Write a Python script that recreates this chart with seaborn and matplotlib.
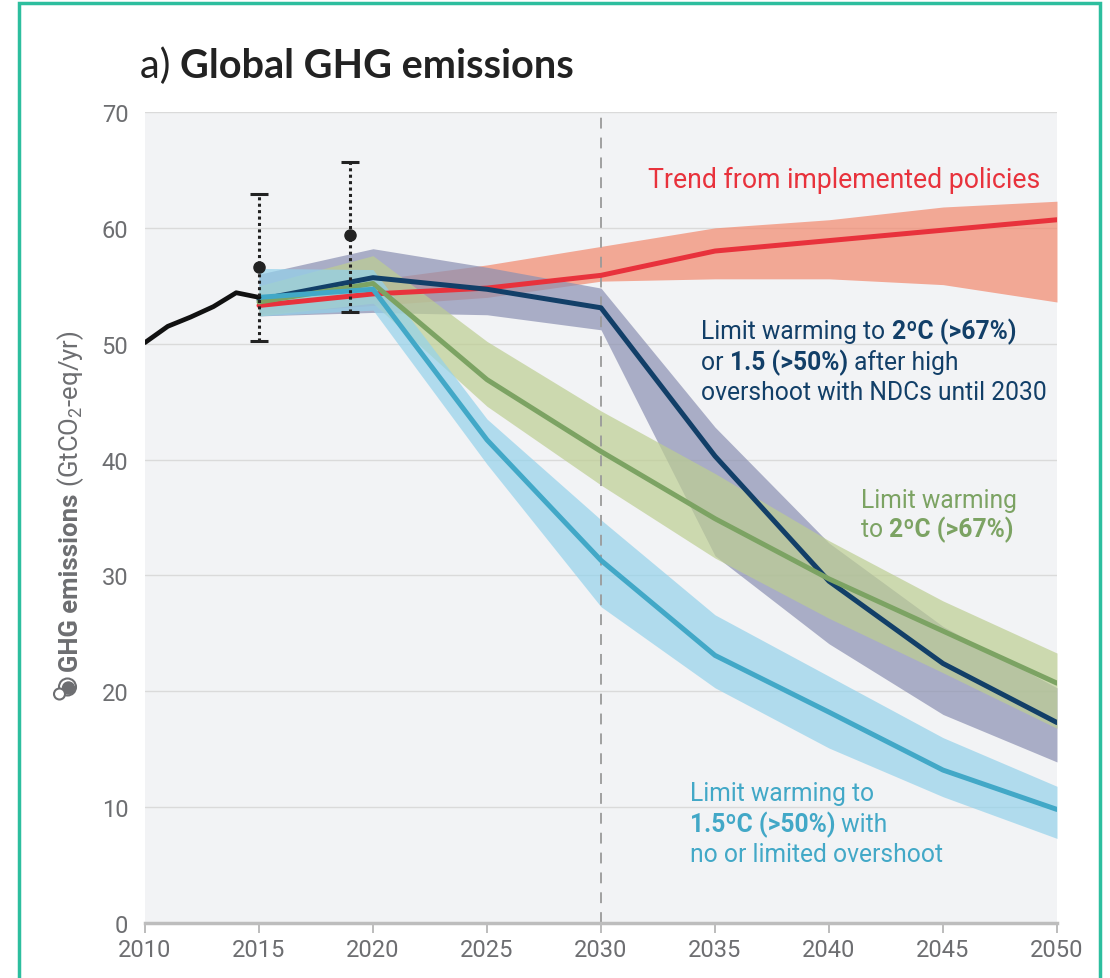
import numpy as np
import pandas as pd
import seaborn as sns
import matplotlib.pyplot as plt
from matplotlib.patches import Rectangle, Circle
from matplotlib.text import Annotation

# historical emissions (GtCO2-eq/yr)
years_hist = [2010, 2011, 2012, 2013, 2014, 2015]
ghg_hist = [50.1, 51.5, 52.3, 53.2, 54.4, 54.0]

# reported values with uncertainty ranges
obs_years = [2015, 2019]
obs_value = [56.6, 59.4]
obs_low = [50.2, 52.7]
obs_high = [62.9, 65.7]

# scenario pathways
years = [2015, 2020, 2025, 2030, 2035, 2040, 2045, 2050]
policies_mid = [53.3, 54.3, 54.8, 55.9, 58.0, 58.9, 59.8, 60.7]
policies_lo = [52.6, 53.3, 54.0, 55.4, 55.6, 55.6, 55.1, 53.6]
policies_hi = [54.0, 55.5, 56.8, 58.4, 60.0, 60.7, 61.8, 62.3]

ndc_mid = [53.8, 55.7, 54.7, 53.1, 40.3, 29.5, 22.4, 17.3]
ndc_lo = [52.4, 52.7, 52.5, 51.2, 31.7, 24.1, 18.0, 13.9]
ndc_hi = [56.0, 58.2, 56.6, 54.8, 42.8, 32.8, 25.6, 20.3]

c2_mid = [53.6, 55.2, 46.9, 40.7, 34.9, 29.7, 25.2, 20.7]
c2_lo = [52.4, 53.5, 44.6, 37.8, 31.5, 26.3, 21.6, 16.8]
c2_hi = [55.0, 57.6, 50.2, 44.2, 38.8, 33.0, 27.8, 23.3]

c15_mid = [54.0, 54.7, 41.7, 31.3, 23.1, 18.2, 13.2, 9.8]
c15_lo = [52.4, 52.9, 39.6, 27.3, 20.3, 15.1, 10.9, 7.3]
c15_hi = [56.5, 56.4, 43.5, 34.8, 26.6, 21.3, 16.0, 11.8]

scenarios = ['policies', 'ndc', 'c2', 'c15']
line_colors = {'policies': '#E8323C', 'ndc': '#123F68', 'c2': '#7CA363', 'c15': '#42A8C7'}
band_colors = {'policies': '#F3886D', 'ndc': '#8B90B2', 'c2': '#BDCE92', 'c15': '#94D2EB'}
mids = {'policies': policies_mid, 'ndc': ndc_mid, 'c2': c2_mid, 'c15': c15_mid}
lows = {'policies': policies_lo, 'ndc': ndc_lo, 'c2': c2_lo, 'c15': c15_lo}
highs = {'policies': policies_hi, 'ndc': ndc_hi, 'c2': c2_hi, 'c15': c15_hi}

df = pd.concat([pd.DataFrame({'year': years, 'ghg': mids[s], 'scenario': s}) for s in scenarios])

sns.set_theme(style='white')
plt.rcParams['font.family'] = ['Roboto', 'DejaVu Sans']
plt.rcParams['mathtext.fontset'] = 'custom'
plt.rcParams['mathtext.rm'] = 'Roboto'
plt.rcParams['mathtext.it'] = 'Roboto:italic'
plt.rcParams['mathtext.bf'] = 'Roboto:bold'

grey = '#6D6E71'

fig = plt.figure(figsize=(11.1, 9.79), dpi=100)
fig.patch.set_facecolor('white')
ax = fig.add_axes([145 / 1110, 55 / 979, 912 / 1110, 811 / 979])
ax.set_facecolor('#F2F3F5')

# uncertainty bands
for s in scenarios:
    ax.fill_between(years, lows[s], highs[s], color=band_colors[s], alpha=0.7, lw=0, zorder=2)

ax.axvline(2030, color='#9A9A9A', lw=1.3, ls=(0, (6, 5)), zorder=2.5)

sns.lineplot(data=df, x='year', y='ghg', hue='scenario', hue_order=scenarios,
             palette=line_colors, lw=3.6, legend=False, ax=ax, zorder=3)
sns.lineplot(x=years_hist, y=ghg_hist, color='#111111', lw=3.4, ax=ax, zorder=3)

eb = ax.errorbar(obs_years, obs_value,
                 yerr=[np.subtract(obs_value, obs_low), np.subtract(obs_high, obs_value)],
                 fmt='o', color='#222222', ms=8, capsize=6.5, elinewidth=2.2, capthick=2.2, zorder=10)
eb[2][0].set_linestyle((0, (1, 1.1)))

ax.set_xlim(2010, 2050)
ax.set_ylim(0, 70)
ax.set_xticks(range(2010, 2051, 5))
ax.set_yticks(range(0, 71, 10))
ax.set_xlabel('')
ax.set_ylabel('')
ax.set_axisbelow(True)
ax.yaxis.grid(True, color='#DADADA', lw=1)
ax.xaxis.grid(False)
for side in ['left', 'top', 'right']:
    ax.spines[side].set_visible(False)
ax.spines['bottom'].set_color('#BDBDBD')
ax.spines['bottom'].set_linewidth(2.5)
ax.tick_params(axis='x', bottom=True, length=7.5, width=1.2, color='#B0B0B0',
               labelsize=17, labelcolor=grey, pad=3)
ax.tick_params(axis='y', left=False, labelsize=17, labelcolor=grey, pad=6)


def rich_line(x, y, parts, color, size=17.7):
    prev = None
    for txt, bold in parts:
        w = 'bold' if bold else 'normal'
        if prev is None:
            prev = ax.text(x, y, txt, color=color, fontsize=size, fontweight=w, va='baseline', ha='left')
        else:
            prev = ax.annotate(txt, xy=(1, y), xycoords=(prev, 'data'), color=color,
                               fontsize=size, fontweight=w, va='baseline', ha='left')


ax.text(2049.25, 63.5, 'Trend from implemented policies', color=line_colors['policies'],
        fontsize=19.2, va='baseline', ha='right')

rich_line(2034.4, 50.5, [('Limit warming to ', False), ('2ºC (>67%)', True)], line_colors['ndc'])
rich_line(2034.4, 47.8, [('or ', False), ('1.5 (>50%)', True), (' after high', False)], line_colors['ndc'])
rich_line(2034.4, 45.2, [('overshoot with NDCs until 2030', False)], line_colors['ndc'])

rich_line(2041.4, 35.9, [('Limit warming', False)], line_colors['c2'])
rich_line(2041.4, 33.4, [('to ', False), ('2ºC (>67%)', True)], line_colors['c2'])

rich_line(2033.9, 10.6, [('Limit warming to', False)], line_colors['c15'])
rich_line(2033.9, 7.9, [('1.5ºC (>50%)', True), (' with', False)], line_colors['c15'])
rich_line(2033.9, 5.35, [('no or limited overshoot', False)], line_colors['c15'])

# y label: bold part then regular part stacked upward
yl = ax.text(-0.0815, 0.311, 'GHG emissions', transform=ax.transAxes, rotation=90,
             fontsize=18.5, fontweight='bold', color=grey, ha='center', va='bottom')
ax.annotate(' (GtCO$_2$-eq/yr)', xy=(0.5, 1), xycoords=yl, rotation=90, fontsize=18.5,
            color=grey, ha='center', va='bottom')

# small icon below the y label
fig.add_artist(Circle((0.675, 2.91), 0.085, transform=fig.dpi_scale_trans,
                      facecolor='white', edgecolor=grey, lw=1.5))
fig.add_artist(Circle((0.685, 2.90), 0.06, transform=fig.dpi_scale_trans, color=grey))
fig.add_artist(Circle((0.595, 2.84), 0.055, transform=fig.dpi_scale_trans,
                      facecolor='white', edgecolor=grey, lw=1.5))

# title
t1 = fig.text(140 / 1110, 1 - 78 / 979, 'a) ', fontsize=28.5, color='#222222',
              family=['Lato', 'DejaVu Sans'], fontweight='normal', va='baseline', ha='left')
fig.add_artist(Annotation('Global GHG emissions', xy=(1, 1 - 78 / 979),
                          xycoords=(t1, 'figure fraction'), fontsize=28.5,
                          color='#222222', family=['Lato', 'DejaVu Sans'],
                          fontweight='bold', va='baseline', ha='left'))

# teal frame around the panel
fig.add_artist(Rectangle((19 / 1110, -0.05), (1100 - 19) / 1110, 1.05 - 4 / 979,
                         transform=fig.transFigure, fill=False, edgecolor='#2DBE9E', lw=2.5))

fig.savefig('out.png', dpi=100)
